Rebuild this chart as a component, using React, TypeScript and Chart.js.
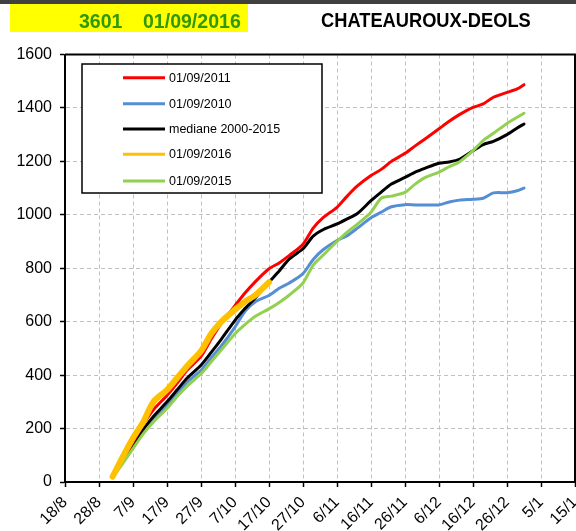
import React, { useEffect, useRef } from "react";
import { Chart, registerables } from "chart.js";

Chart.register(...registerables);

// ---- data ----
const tickLabels = ["18/8", "28/8", "7/9", "17/9", "27/9", "7/10", "17/10", "27/10", "6/11", "16/11", "26/11", "6/12", "16/12", "26/12", "5/1", "15/1"];
// day index counted from 18/8
const days = [14, 17, 20, 23, 26, 30, 33, 36, 40, 43, 46, 50, 53, 56, 60, 63, 66, 70, 73, 76, 80, 83, 86, 90, 93, 96, 100, 103, 106, 110, 113, 116, 120, 123, 126, 130, 133, 135];
const red2011 = [20, 85, 150, 215, 270, 324, 370, 420, 470, 535, 595, 660, 708, 750, 798, 820, 848, 890, 950, 990, 1028, 1070, 1108, 1147, 1170, 1200, 1230, 1258, 1285, 1322, 1350, 1375, 1402, 1415, 1440, 1458, 1471, 1487];
const blue2010 = [20, 80, 140, 190, 235, 287, 330, 375, 418, 465, 510, 580, 640, 675, 698, 725, 745, 780, 833, 870, 904, 922, 950, 989, 1010, 1030, 1038, 1037, 1037, 1037, 1048, 1055, 1058, 1062, 1082, 1083, 1090, 1100];
const median = [20, 80, 140, 195, 245, 300, 345, 390, 437, 485, 535, 605, 650, 690, 748, 790, 835, 873, 920, 945, 966, 985, 1005, 1053, 1085, 1115, 1140, 1160, 1175, 1193, 1198, 1208, 1240, 1263, 1275, 1300, 1325, 1340];
const yellow2016 = [20, 95, 165, 225, 300, 345, 390, 435, 490, 555, 600, 645, 675, 700, 748];
const green2015 = [15, 70, 125, 180, 225, 275, 320, 360, 405, 450, 495, 555, 590, 620, 648, 672, 700, 745, 812, 850, 900, 935, 965, 1010, 1062, 1070, 1084, 1115, 1140, 1160, 1180, 1198, 1240, 1278, 1305, 1342, 1365, 1380];

const seriesNames = ["01/09/2011", "01/09/2010", "mediane 2000-2015", "01/09/2016", "01/09/2015"];
const seriesColors = ["#ff0000", "#558ed5", "#000000", "#ffc000", "#92d050"];

const FONT = "'Liberation Sans', Arial, sans-serif";

function pts(vals: number[]) {
  return vals.map((v, i) => ({ x: days[i], y: v }));
}

const overlayPlugin = {
  id: "overlay",
  beforeDraw(chart: any) {
    const ctx = chart.ctx;
    ctx.save();
    ctx.fillStyle = "#ffffff";
    ctx.fillRect(0, 0, chart.width, chart.height);
    ctx.fillStyle = "#404040";
    ctx.fillRect(0, 0, chart.width, 4);
    ctx.fillStyle = "#ffff00";
    ctx.fillRect(10, 4, 238, 28);
    ctx.fillStyle = "#339900";
    ctx.font = `bold 21px ${FONT}`;
    ctx.textBaseline = "alphabetic";
    ctx.textAlign = "left";
    ctx.save();
    ctx.translate(79, 27.5);
    ctx.scale(0.93, 1);
    ctx.fillText("3601", 0, 0);
    ctx.restore();
    ctx.save();
    ctx.translate(143, 27.5);
    ctx.scale(0.93, 1);
    ctx.fillText("01/09/2016", 0, 0);
    ctx.restore();
    ctx.fillStyle = "#000000";
    ctx.save();
    ctx.translate(321, 27);
    ctx.scale(0.87, 1);
    ctx.fillText("CHATEAUROUX-DEOLS", 0, 0);
    ctx.restore();
    ctx.restore();
  },
  afterDatasetsDraw(chart: any) {
    const ctx = chart.ctx;
    const a = chart.chartArea;
    ctx.save();
    // top and right frame
    ctx.strokeStyle = "#000";
    ctx.lineWidth = 2;
    ctx.beginPath();
    ctx.moveTo(a.left, a.top);
    ctx.lineTo(a.right, a.top);
    ctx.lineTo(a.right, a.bottom);
    ctx.stroke();
    // legend
    ctx.fillStyle = "#fff";
    ctx.fillRect(82, 64, 240, 129);
    ctx.lineWidth = 1.5;
    ctx.strokeRect(82, 64, 240, 129);
    const rows = [77.7, 103.7, 129, 154.3, 181];
    ctx.font = `12.5px ${FONT}`;
    ctx.textBaseline = "middle";
    ctx.textAlign = "left";
    seriesNames.forEach((n, i) => {
      ctx.strokeStyle = seriesColors[i];
      ctx.lineWidth = 3;
      ctx.beginPath();
      ctx.moveTo(123, rows[i]);
      ctx.lineTo(165, rows[i]);
      ctx.stroke();
      ctx.fillStyle = "#000";
      ctx.fillText(n, 169, rows[i] + 0.5);
    });
    ctx.restore();
  },
};

export default function App() {
  const ref = useRef<HTMLCanvasElement>(null);
  useEffect(() => {
    document.body.style.margin = "0";
    const valueSets = [red2011, blue2010, median, yellow2016, green2015];
    const orders = [2, 4, 3, 0, 1];
    const widths = [3, 3, 3, 6, 3];
    const chart = new Chart(ref.current!, {
      type: "line",
      data: {
        datasets: valueSets.map((vals, i) => ({
          label: seriesNames[i],
          data: pts(vals),
          borderColor: seriesColors[i],
          backgroundColor: seriesColors[i],
          borderWidth: widths[i],
          pointRadius: 0,
          tension: 0.25,
          fill: false,
          order: orders[i],
          borderCapStyle: "round",
          borderJoinStyle: "round",
        })),
      },
      options: {
        animation: false,
        responsive: false,
        devicePixelRatio: 1,
        layout: { padding: { top: 54.5, right: 1, left: 0, bottom: 0 } },
        plugins: { legend: { display: false }, tooltip: { enabled: false }, title: { display: false } },
        scales: {
          x: {
            type: "linear",
            min: 0,
            max: 150,
            afterFit: (s: any) => {
              s.height = 49;
              s.paddingLeft = 0;
              s.paddingRight = 0;
            },
            afterBuildTicks: (s: any) => {
              s.ticks = tickLabels.map((_, i) => ({ value: i * 10 }));
            },
            ticks: {
              autoSkip: false,
              minRotation: 45,
              maxRotation: 45,
              padding: 6,
              color: "#000",
              font: { family: FONT, size: 16 },
              callback: (_v: any, i: number) => tickLabels[i],
            },
            grid: {
              color: "#c0c0c0",
              lineWidth: 1,
              drawTicks: true,
              tickLength: 5,
              tickColor: "#000",
              tickWidth: 1.5,
            },
            border: { display: true, color: "#000", width: 2, dash: [4, 3] },
          },
          y: {
            min: 0,
            max: 1600,
            afterFit: (s: any) => {
              s.width = 65;
              s.paddingTop = 0;
              s.paddingBottom = 0;
            },
            ticks: {
              stepSize: 200,
              padding: 8,
              color: "#000",
              font: { family: FONT, size: 16 },
              callback: (v: any) => String(v),
            },
            grid: {
              color: "#c0c0c0",
              lineWidth: 1,
              drawTicks: true,
              tickLength: 5,
              tickColor: "#000",
              tickWidth: 1.5,
            },
            border: { display: true, color: "#000", width: 2, dash: [4, 3] },
          },
        },
      },
      plugins: [overlayPlugin],
    } as any);
    return () => chart.destroy();
  }, []);
  return (
    <div style={{ position: "fixed", left: 0, top: 0, width: 576, height: 531 }}>
      <canvas ref={ref} width={576} height={531} style={{ display: "block" }} />
    </div>
  );
}
